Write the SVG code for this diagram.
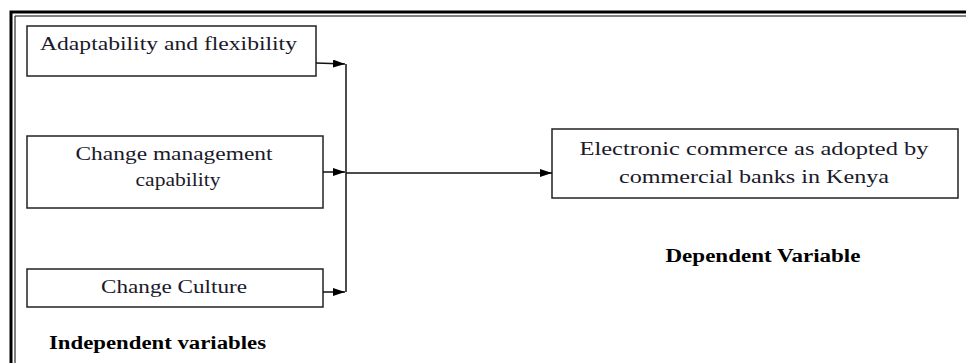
<svg xmlns="http://www.w3.org/2000/svg" width="966" height="363" viewBox="0 0 966 363">
<defs>
<marker id="ah" viewBox="0 0 10 10" refX="10" refY="5" markerWidth="12" markerHeight="8" markerUnits="userSpaceOnUse" orient="auto" preserveAspectRatio="none">
<path d="M0,0 L10,5 L0,10 z" fill="#000"/>
</marker>
</defs>
<style>
.box{fill:#fff;stroke:#222;stroke-width:1.5}
.t{font-family:"Liberation Serif","Times New Roman",serif;font-size:19px;fill:#1a1a2a}
.b{font-family:"Liberation Serif","Times New Roman",serif;font-size:18px;font-weight:bold;fill:#000}
.c{stroke:#111;stroke-width:1.5;fill:none}
</style>
<rect width="966" height="363" fill="#fff"/>
<g id="frame">
<path d="M11,363 V12 H966" fill="none" stroke="#000" stroke-width="3"/>
<path d="M15,363 V16 H966" fill="none" stroke="#000" stroke-width="1"/>
</g>
<g id="n1">
<rect class="box" x="27" y="26" width="289" height="50"/>
<text class="t" x="40" y="50" textLength="257" lengthAdjust="spacingAndGlyphs">Adaptability and flexibility</text>
</g>
<g id="n2">
<rect class="box" x="27" y="136" width="296" height="72"/>
<text class="t" x="174" y="160" text-anchor="middle" textLength="197" lengthAdjust="spacingAndGlyphs">Change management</text>
<text class="t" x="178" y="186" text-anchor="middle" textLength="85" lengthAdjust="spacingAndGlyphs">capability</text>
</g>
<g id="n3">
<rect class="box" x="27" y="269" width="296" height="38"/>
<text class="t" x="174" y="293" text-anchor="middle" textLength="146" lengthAdjust="spacingAndGlyphs">Change Culture</text>
</g>
<g id="n4">
<rect class="box" x="552" y="129" width="406" height="69"/>
<text class="t" x="754" y="155" text-anchor="middle" textLength="349" lengthAdjust="spacingAndGlyphs">Electronic commerce as adopted by</text>
<text class="t" x="754" y="183" text-anchor="middle" textLength="270" lengthAdjust="spacingAndGlyphs">commercial banks in Kenya</text>
</g>
<g id="labels">
<text class="b" x="763" y="262" text-anchor="middle" textLength="195" lengthAdjust="spacingAndGlyphs">Dependent Variable</text>
<text class="b" x="49" y="349" textLength="217" lengthAdjust="spacingAndGlyphs">Independent variables</text>
</g>
<g id="connectors">
<path class="c" d="M346,64 V292"/>
<path class="c" d="M316,63 L345,64" marker-end="url(#ah)"/>
<path class="c" d="M323,172 L345,172" marker-end="url(#ah)"/>
<path class="c" d="M323,292 L345,292" marker-end="url(#ah)"/>
<path class="c" d="M346,173 L552,173" marker-end="url(#ah)"/>
</g>
</svg>
